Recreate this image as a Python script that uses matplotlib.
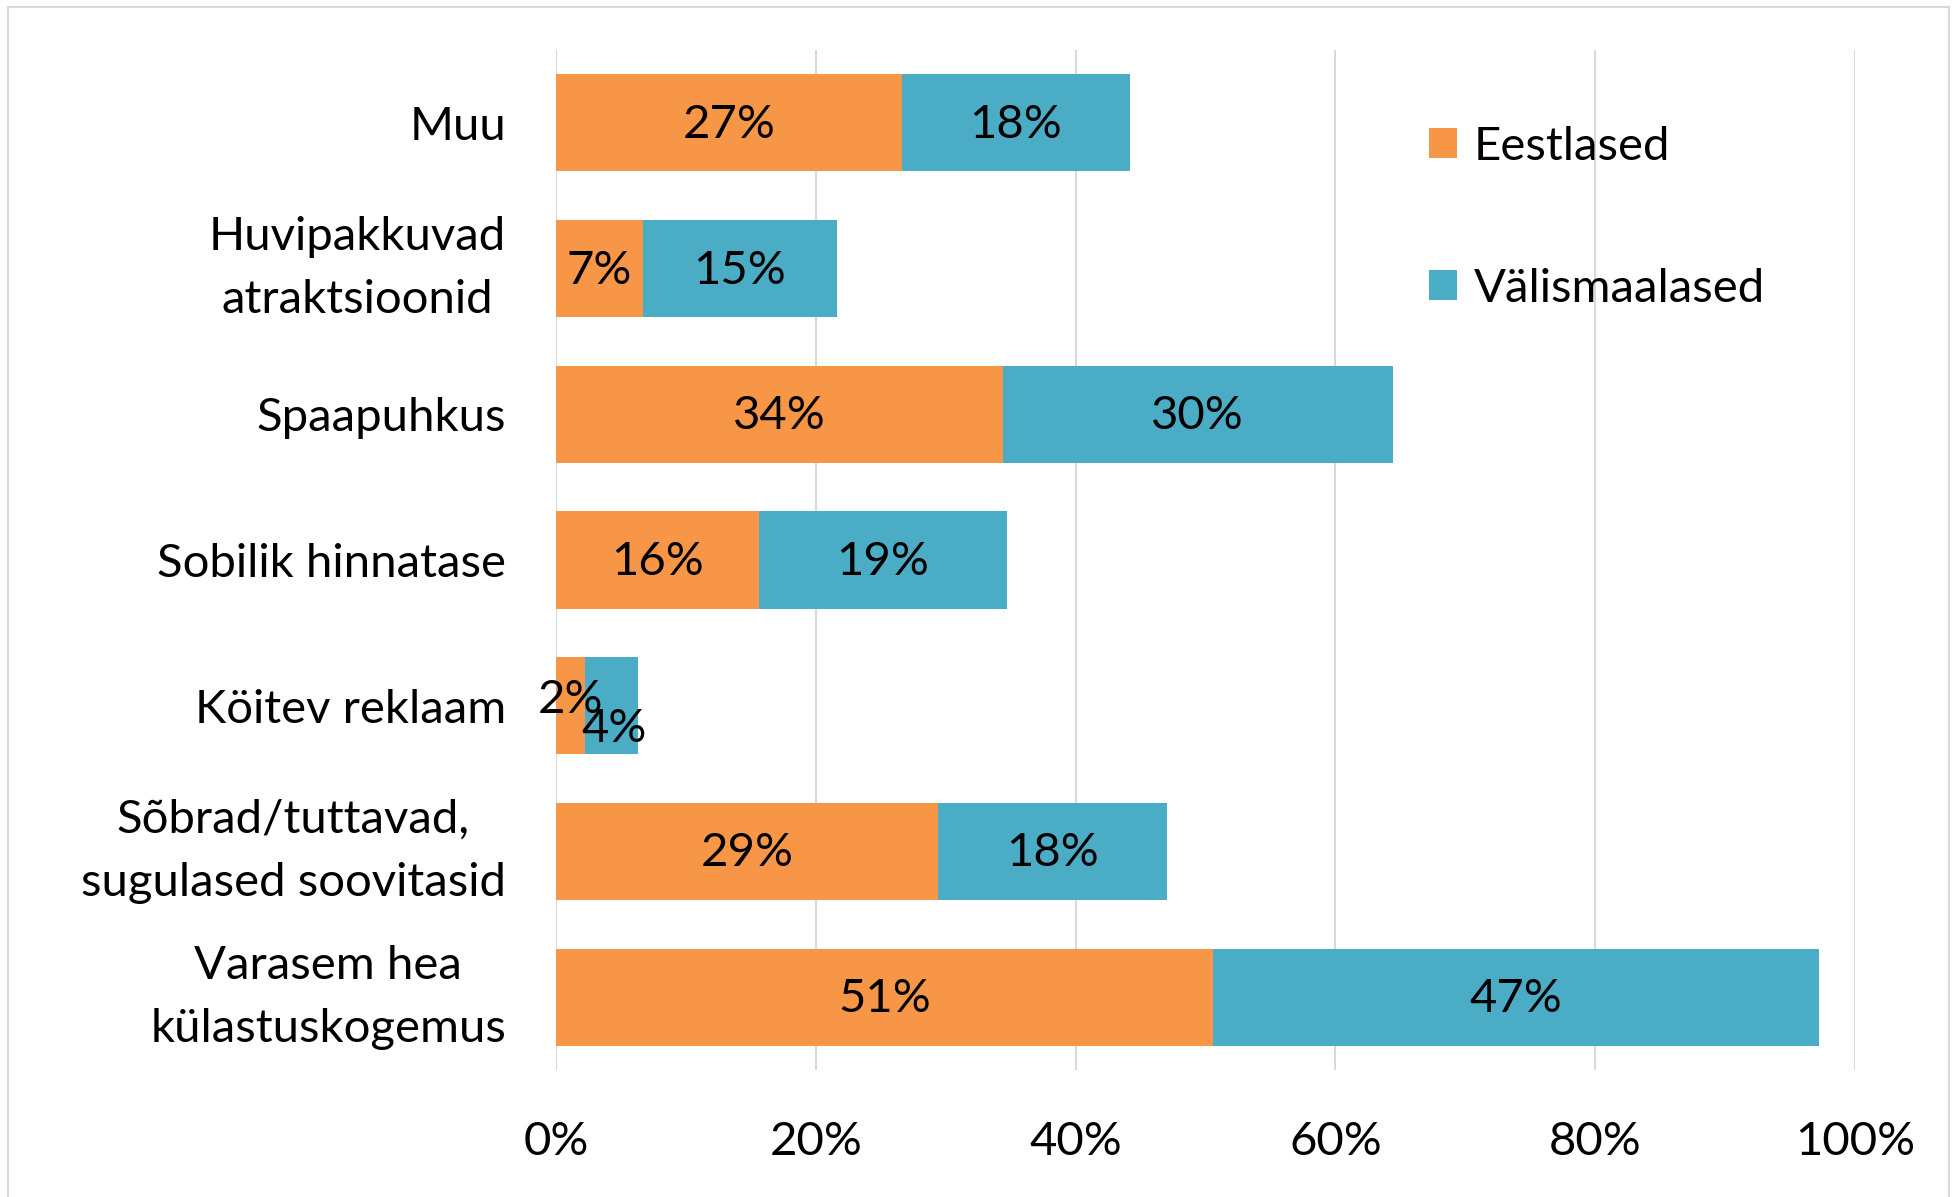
import matplotlib
matplotlib.use('Agg')
import matplotlib.pyplot as plt
from matplotlib.patches import Rectangle

categories = ["Muu", "Huvipakkuvad\natraktsioonid", "Spaapuhkus", "Sobilik hinnatase",
              "Köitev reklaam", "Sõbrad/tuttavad,\nsugulased soovitasid",
              "Varasem hea\nkülastuskogemus"]
eestlased = [26.6, 6.7, 34.4, 15.6, 2.2, 29.4, 50.6]
valismaalased = [17.6, 14.9, 30.0, 19.1, 4.1, 17.6, 46.6]
series_names = ["Eestlased", "Välismaalased"]
xticks = [0, 20, 40, 60, 80, 100]
xtick_labels = ["0%", "20%", "40%", "60%", "80%", "100%"]

plt.rcParams['font.family'] = ['Lato', 'DejaVu Sans']
FS = 34

fig = plt.figure(figsize=(19.52, 11.97), dpi=100)
fig.patches.append(Rectangle((8/1952, -0.1), (1949-8)/1952, 1 - 7/1197 + 0.1,
                             transform=fig.transFigure, fill=False,
                             edgecolor='#d9d9d9', linewidth=1.5))
ax = fig.add_axes([556/1952, 1 - 1070/1197, (1855-556)/1952, (1070-50)/1197])

ypos = list(range(len(categories)))
b1 = ax.barh(ypos, eestlased, height=0.667, color='#F79646', label=series_names[0], zorder=2)
b2 = ax.barh(ypos, valismaalased, left=eestlased, height=0.667, color='#4BACC6',
             label=series_names[1], zorder=2)

ax.set_xlim(0, 100)
ax.set_ylim(len(categories) - 0.5, -0.5)
ax.set_xticks(xticks)
ax.set_xticklabels(xtick_labels, fontsize=FS)
ax.set_yticks(ypos)
ax.set_yticklabels(categories, fontsize=FS, multialignment='center', linespacing=1.62)
for lbl in ax.get_yticklabels():
    if '\n' in lbl.get_text():
        lbl.set_verticalalignment('center')
ax.tick_params(axis='both', length=0)
ax.tick_params(axis='x', pad=37)
ax.tick_params(axis='y', pad=36)
ax.grid(axis='x', color='#d9d9d9', linewidth=1.5, zorder=0)
ax.set_axisbelow(True)
for s in ax.spines.values():
    s.set_visible(False)
ax.axvline(0, color='#d9d9d9', linewidth=1.5, zorder=1)

# label offsets (pixels) for crowded bars
offsets1 = {4: (0, 6)}
offsets2 = {4: (3, -23)}
for i in ypos:
    e = eestlased[i]
    v = valismaalased[i]
    ax.annotate(f"{e:.0f}%", xy=(e / 2, i), xytext=offsets1.get(i, (0, -2)),
                textcoords='offset pixels', ha='center', va='center', fontsize=FS, zorder=3)
    ax.annotate(f"{v:.0f}%", xy=(e + v / 2, i), xytext=offsets2.get(i, (0, -2)),
                textcoords='offset pixels', ha='center', va='center', fontsize=FS, zorder=3)

leg = ax.legend(loc='upper left', bbox_to_anchor=(1429/1952, 1 - 126/1197),
                bbox_transform=fig.transFigure, frameon=False, fontsize=FS,
                handlelength=0.6, handleheight=0.6, handletextpad=0.35,
                labelspacing=2.12, borderpad=0, borderaxespad=0)

fig.savefig('out.png', dpi=100)
